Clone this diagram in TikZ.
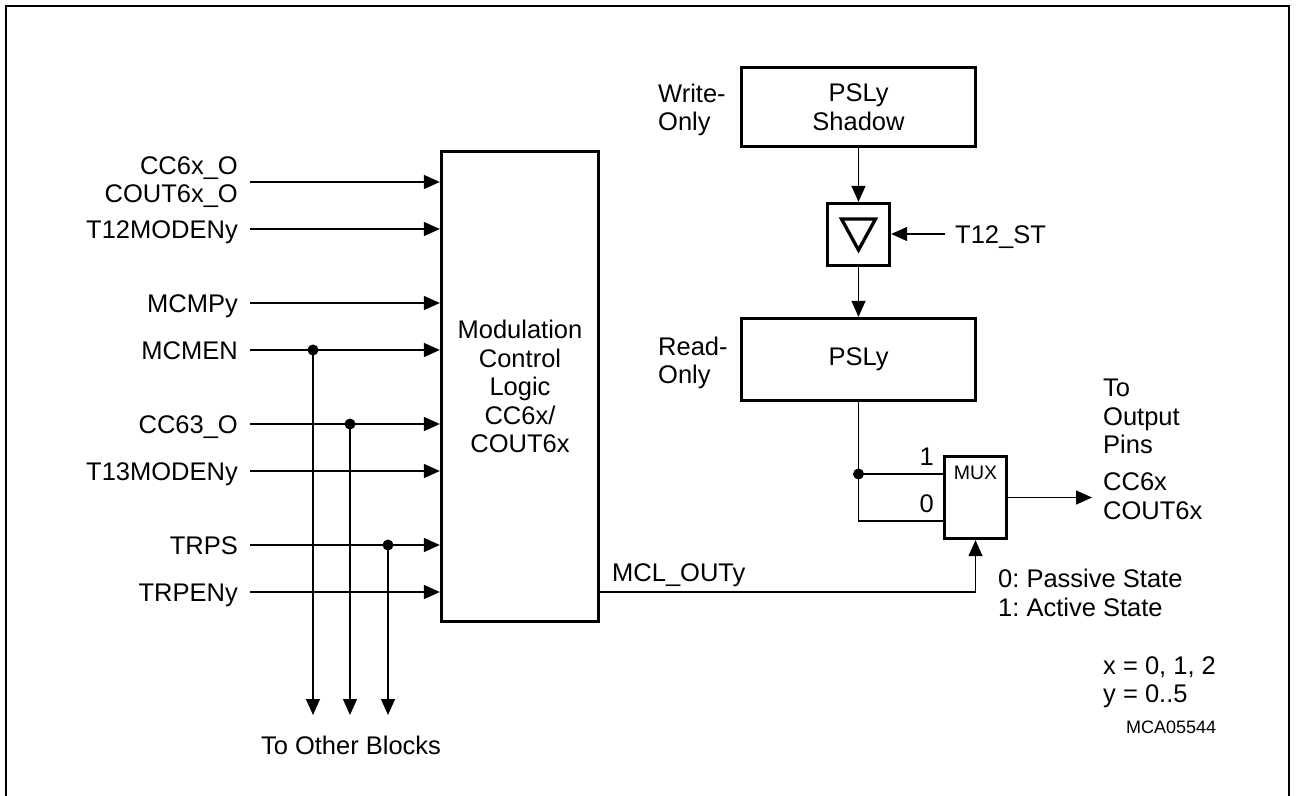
\documentclass[tikz,border=0pt]{standalone}
\usepackage{fontspec}
\setmainfont{Liberation Sans}
\usetikzlibrary{arrows.meta}
\frenchspacing

\tikzset{
  bloc/.style={draw, line width=3.3pt, inner sep=0pt, align=center},
  fil/.style={line width=1.3pt},
  fleche/.style={fil, -{Triangle[length=16pt,width=14pt]}},
  texte/.style={inner sep=0pt, font=\fontsize{25.5}{28.5}\selectfont},
  entree/.style={texte, text height=18.3pt, text depth=0pt},
  point/.style={circle, fill, inner sep=0pt, minimum size=11pt},
}

\begin{document}
\begin{tikzpicture}[x=1pt,y=-1pt]
\useasboundingbox (0,0) rectangle (1298,795);

% Cadre
\draw[line width=2.5pt] (6,800) -- (6,6) -- (1289,6) -- (1289,800);

% Logique de modulation
\node[bloc, texte, minimum width=157pt, minimum height=470pt] (mcl) at (520,386.5)
{Modulation\\Control\\Logic\\CC6x/\\COUT6x};

% Entrees
\node[texte, anchor=east, align=right] (cc) at (238,182) {CC6x\_O\\COUT6x\_O};
\node[entree, anchor=east] (tdouze) at (238,229) {T12MODENy};
\node[entree, anchor=east] (mcmp) at (238,303) {MCMPy};
\node[entree, anchor=east] (mcmen) at (238,350) {MCMEN};
\node[entree, anchor=east] (cctrois) at (238,424) {CC63\_O};
\node[entree, anchor=east] (ttreize) at (238,471) {T13MODENy};
\node[entree, anchor=east] (trps) at (238,545) {TRPS};
\node[entree, anchor=east] (trpen) at (238,592) {TRPENy};

\foreach \e in {cc,tdouze,mcmp,mcmen,cctrois,ttreize,trps,trpen}
  \draw[fleche, shorten <=12pt] (\e.east) -- (\e.east -| mcl.west);

% Vers les autres blocs
\node[point] (pa) at (313,350) {};
\node[point] (pb) at (350,424) {};
\node[point] (pc) at (388,545) {};
\coordinate (fa) at (313,715);
\coordinate (fb) at (350,715);
\coordinate (fc) at (388,715);
\draw[fleche] (pa.center) -- (fa);
\draw[fleche] (pb.center) -- (fb);
\draw[fleche] (pc.center) -- (fc);
\node[texte] (autres) at (351,745) {To Other Blocks};

% Registres PSLy
\node[bloc, texte, minimum width=234pt, minimum height=79pt] (ombre) at (858.5,107)
{PSLy\\Shadow};
\node[texte, anchor=west, align=left] (ecriture) at (658,110) {Write-\\Only};

\node[bloc, minimum size=62pt] (verrou) at (858.5,234.5) {};
\draw[line width=3.3pt]
(verrou.center)
++(-17,-15.5)
--
++(34,0)
--
++(-17,31)
-- cycle;
\node[entree, anchor=west] (tst) at (955,234) {T12\_ST};
\draw[fleche, shorten <=10pt] (tst.west) -- (tst.west -| verrou.east);

\node[bloc, texte, minimum width=234pt, minimum height=82pt] (psl) at (858.5,359.5) {PSLy};
\node[texte, anchor=west, align=left] (lecture) at (658,363) {Read-\\Only};

\draw[fleche] (ombre) -- (verrou);
\draw[fleche] (verrou) -- (psl);

% Multiplexeur
\node[bloc, minimum width=62pt, minimum height=82pt] (mux) at (975.5,497.5) {};
\node[inner sep=0pt, font=\fontsize{19.5}{22}\selectfont] (muxtxt) at (975.5,473) {MUX};
\path (mux.west) ++(0,-23.5) coordinate (un) ++(0,47) coordinate (zero);
\node[point] (pd) at (psl.south |- un) {};
\draw[fil] (psl.south) |- (zero);
\draw[fil] (pd.center) -- (un);
\node[entree, anchor=east] (lun) at (934,456) {1};
\node[entree, anchor=east] (lzero) at (934,503) {0};

% Sortie
\coordinate (sortie) at (1092,497.5);
\draw[fleche] (mux.east) -- (sortie);
\node[texte, anchor=west, align=left] (broches) at (1103,416.5) {To\\Output\\Pins};
\node[texte, anchor=west, align=left] (sorties) at (1103,496) {CC6x\\COUT6x};

% Commande
\draw[fleche] (trpen.east -| mcl.east) -| (mux.south);
\node[entree, anchor=west] (mclout) at (612,572.5) {MCL\_OUTy};
\node[texte, anchor=west, align=left] (etats) at (998,593) {0: Passive State\\1: Active State};

% Legende
\node[texte, anchor=west, align=left] (indices) at (1103,682) {x = 0, 1, 2\\y = 0..5};
\node[inner sep=0pt, anchor=west, font=\fontsize{18}{20}\selectfont] (ref) at (1126,727) {MCA05544};

\end{tikzpicture}
\end{document}
